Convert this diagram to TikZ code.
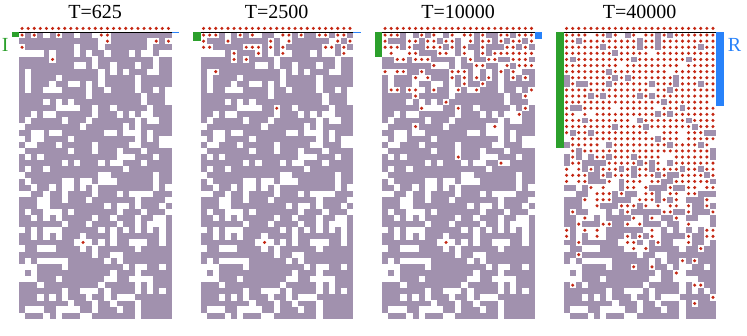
\documentclass[tikz,border=0pt]{standalone}
\usepackage{fontspec}
\setmainfont{Liberation Serif}
\definecolor{wall}{RGB}{161,145,174}
\definecolor{dotred}{RGB}{196,38,18}
\definecolor{igreen}{RGB}{44,160,44}
\definecolor{rblue}{RGB}{40,130,250}
\tikzset{
  paneltitle/.style={font=\fontsize{20}{24}\selectfont, anchor=base, inner sep=0pt},
  wallcell/.style={fill=wall},
  opencell/.style={fill=white},
  agent/.style={fill=dotred, draw=none},
  ibar/.style={fill=igreen, draw=none},
  rbar/.style={fill=rblue, draw=none},
  topline/.style={draw=black, line width=1pt},
  sidelabel/.style={font=\fontsize{20}{24}\selectfont, inner sep=0pt},
}
\newcommand{\cellsz}{6.1}
% #1 x0, #2 amplitude, #3 front row, #4 width, #5 green height, #6 blue height
\newcommand{\mypanel}[6]{%
  \pgfmathsetseed{4711}%
  \fill[wallcell] (#1,32) rectangle ++(152.5,286.7);
  \foreach \r in {0,...,46}{%
    \pgfmathsetmacro\pp{#2/(1+exp(min(9,(\r-#3)/#4)))}%
    \foreach \c in {0,...,24}{%
      \pgfmathsetmacro\ua{rnd}%
      \pgfmathsetmacro\ub{rnd}%
      \pgfmathtruncatemacro\isdot{(\ub<\pp) ? 1 : 0}%
      \pgfmathtruncatemacro\iswhite{(\ua<0.26) ? 1 : 0}%
      \ifnum\isdot=1 \def\iswhite{1}\fi
      \ifnum\iswhite=1
        \fill[opencell] (#1+\c*\cellsz-0.1, 32+\r*\cellsz-0.1) rectangle ++(\cellsz+0.2,\cellsz+0.2);
      \fi
      \ifnum\isdot=1
        \fill[agent] (#1+\c*\cellsz+\cellsz/2, 32+\r*\cellsz+\cellsz/2) circle (1.7pt);
      \fi
    }%
  }%
  \foreach \c in {0,...,24}{%
    \fill[agent] (#1+\c*\cellsz+\cellsz/2, 28.4) circle (1.7pt);
  }%
  \draw[topline] (#1,32) -- ++(152.5,0);
  \fill[ibar] (#1-7.5,31.5) rectangle ++(7.5,#5);
  \fill[rbar] (#1+152.5,31.5) rectangle ++(7.5,#6);
}
\begin{document}
\begin{tikzpicture}[x=1pt,y=-1pt]
\useasboundingbox (0,0) rectangle (747,335);
\mypanel{19}{0.4}{0}{1}{5.5}{1}
\mypanel{200.5}{0.5}{2}{1.5}{9}{1.3}
\mypanel{382}{0.7}{6}{3}{25}{7}
\mypanel{563.5}{0.88}{27}{4.5}{116.5}{74}
\node[paneltitle] (t1) at (95.2,18.5) {T=625};
\node[paneltitle] (t2) at (276.7,18.5) {T=2500};
\node[paneltitle] (t3) at (458.2,18.5) {T=10000};
\node[paneltitle] (t4) at (639.7,18.5) {T=40000};
\node[sidelabel, text=igreen] (lI) at (5.2,44.5) {I};
\node[sidelabel, text=rblue] (lR) at (734.5,44.5) {R};
\end{tikzpicture}
\end{document}
